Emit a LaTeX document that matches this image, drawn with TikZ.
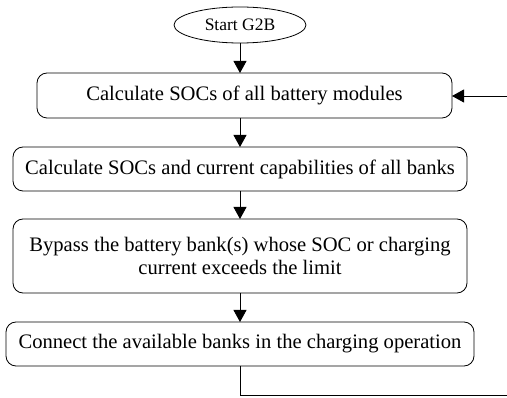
\documentclass[tikz,border=0pt]{standalone}
\usepackage{fontspec}
\setmainfont{Liberation Serif}
\usetikzlibrary{arrows.meta,shapes.geometric}
\begin{document}
\begin{tikzpicture}[x=1pt,y=-1pt,
  every node/.style={inner sep=0pt,outer sep=0pt},
  procbox/.style={draw,rounded corners=10pt,line width=0.8pt,align=center,font=\fontsize{20.6}{22.5}\selectfont},
  startell/.style={draw,ellipse,line width=0.8pt,minimum width=132pt,minimum height=36pt,font=\fontsize{17.5}{19}\selectfont},
  flow/.style={line width=0.8pt,-{Triangle[length=12pt,width=13pt]}},
  plain/.style={line width=0.8pt}]
\useasboundingbox (0,0) rectangle (507,398);
\node[startell] (s) at (240,25) {Start G2B};
\node[procbox,minimum width=415pt,minimum height=45pt] (b1) at (244.5,95.5) {Calculate SOCs of all battery modules};
\node[procbox,minimum width=454pt,minimum height=44pt] (b2) at (240,169) {Calculate SOCs and current capabilities of all banks};
\node[procbox,minimum width=454pt,minimum height=74pt] (b3) at (240,256) {Bypass the battery bank(s) whose SOC or charging\\current exceeds the limit};
\node[procbox,minimum width=468pt,minimum height=44pt] (b4) at (240,344) {Connect the available banks in the charging operation};
\coordinate (c1) at (507,395);
\coordinate (c2) at (507,96);
\draw[flow] (s) -- (s|-b1.north);
\draw[flow] (s|-b1.south) -- (s|-b2.north);
\draw[flow] (b2) -- (b3);
\draw[flow] (b3) -- (b4);
\draw[plain] (b4.south) -- (b4.south|-c1) -- (c1);
\draw[flow] (c2) -- (b1.east|-c2);
\end{tikzpicture}
\end{document}
